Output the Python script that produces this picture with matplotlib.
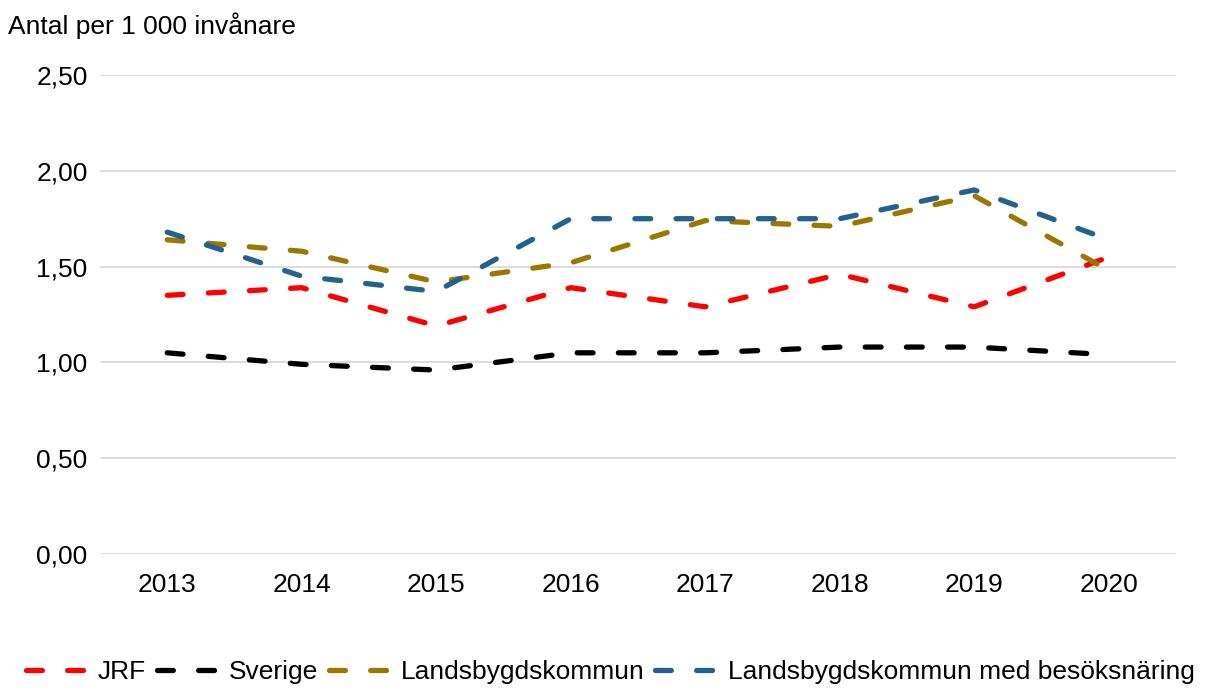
import matplotlib.pyplot as plt
from matplotlib.lines import Line2D
import numpy as np

plt.rcParams['font.family'] = ['Liberation Sans', 'DejaVu Sans']

years = ['2013', '2014', '2015', '2016', '2017', '2018', '2019', '2020']
jrf = [1.35, 1.39, 1.19, 1.39, 1.29, 1.46, 1.29, 1.55]
sverige = [1.05, 0.99, 0.96, 1.05, 1.05, 1.08, 1.08, 1.04]
landsbygd = [1.64, 1.58, 1.42, 1.52, 1.74, 1.71, 1.87, 1.48]
besok = [1.68, 1.45, 1.37, 1.75, 1.75, 1.75, 1.90, 1.64]

series = [
    ('JRF', jrf, '#ff0000'),
    ('Sverige', sverige, '#000000'),
    ('Landsbygdskommun', landsbygd, '#9c7700'),
    ('Landsbygdskommun med besöksnäring', besok, '#24618f'),
]

fig = plt.figure(figsize=(12.08, 6.88), dpi=100)
ax = fig.add_axes([100 / 1208, 1 - 554 / 688, 1076 / 1208, 479 / 688])

x = np.arange(len(years))
handles = []
for name, vals, col in series:
    ax.plot(x, vals, color=col, lw=3.8, dashes=(3.0, 4.8),
            dash_capstyle='round', solid_capstyle='round')
    handles.append(Line2D([], [], color=col, lw=3.8, dashes=(3.0, 4.8),
                          dash_capstyle='round', label=name))

ax.set_xlim(-0.5, len(years) - 0.5)
ax.set_ylim(0, 2.5)
ax.set_xticks(x)
ax.set_xticklabels(years)
yt = np.arange(0, 2.51, 0.5)
ax.set_yticks(yt)
ax.set_yticklabels([f'{v:.2f}'.replace('.', ',') for v in yt])
ax.tick_params(length=0, labelsize=19)
ax.tick_params(axis='x', pad=14)
ax.tick_params(axis='y', pad=9)
ax.grid(axis='y', color='#d9d9d9', lw=1.3)
ax.set_axisbelow(True)
for s in ax.spines.values():
    s.set_visible(False)

fig.text(8 / 1208, 1 - 26 / 688, 'Antal per 1 000 invånare', fontsize=19, va='center', ha='left')

fig.legend(handles=handles, loc='center', bbox_to_anchor=(610 / 1208, 1 - 672 / 688), ncol=4,
           frameon=False, fontsize=19, handlelength=2.24, handletextpad=0.5,
           columnspacing=0.4, borderaxespad=0)

fig.savefig('out.png', dpi=100)
